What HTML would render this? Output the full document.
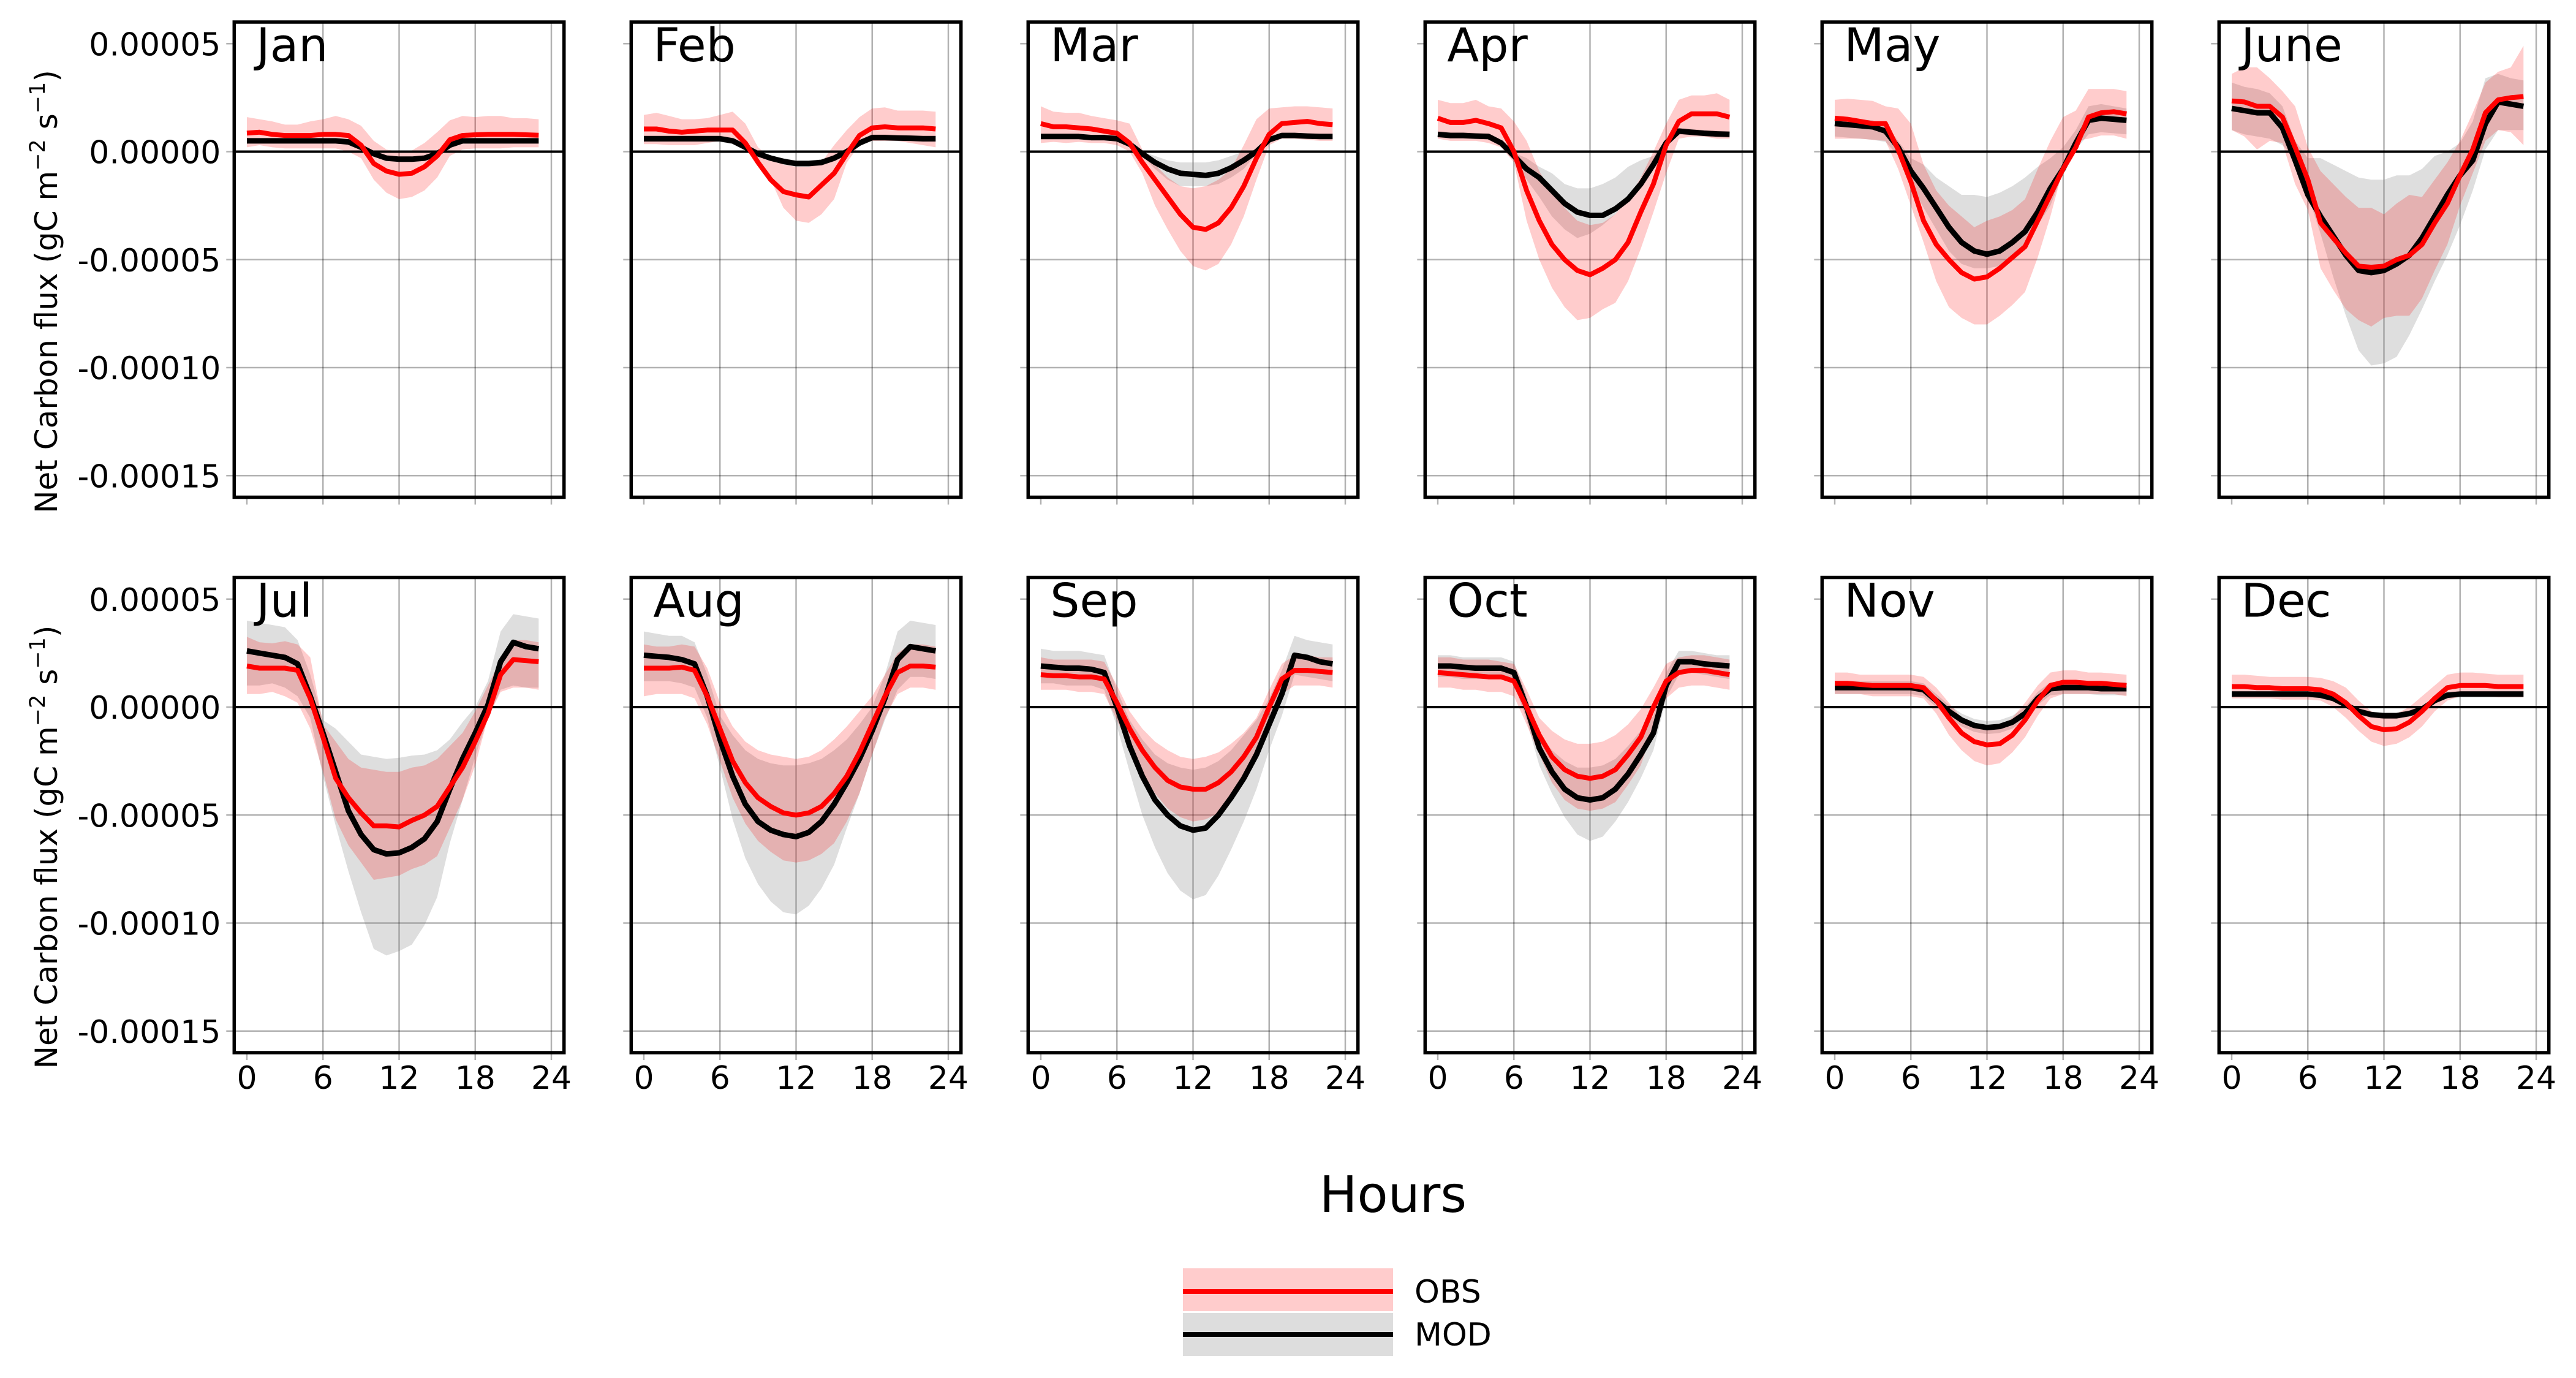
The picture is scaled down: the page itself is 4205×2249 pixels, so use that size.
<!DOCTYPE html>
<html><head><meta charset="utf-8"><style>
html,body{margin:0;padding:0;background:#fff}
svg{display:block;font-family:"DejaVu Sans","Liberation Sans",sans-serif}
</style></head><body>
<svg id="chart" width="4205" height="2249" viewBox="0 0 4205 2249" xmlns="http://www.w3.org/2000/svg">
<g id="panels"></g>
<text x="2274" y="1978" font-size="82" text-anchor="middle">Hours</text>
<g>
  <rect x="1931" y="2070" width="343" height="70" fill="#ffcccc"/>
  <line x1="1931" x2="2274" y1="2108" y2="2108" stroke="#ff0000" stroke-width="8"/>
  <text x="2309" y="2126" font-size="52">OBS</text>
  <rect x="1931" y="2143" width="343" height="70" fill="#dddddd"/>
  <line x1="1931" x2="2274" y1="2178" y2="2178" stroke="#000" stroke-width="8"/>
  <text x="2309" y="2196" font-size="52">MOD</text>
</g>
</svg>
<script>
const months = ["Jan","Feb","Mar","Apr","May","June","Jul","Aug","Sep","Oct","Nov","Dec"];
const hours = [0,1,2,3,4,5,6,7,8,9,10,11,12,13,14,15,16,17,18,19,20,21,22,23];
const yTicks = [5,0,-5,-10,-15];
const yTickLabels = ["0.00005","0.00000","-0.00005","-0.00010","-0.00015"];
const xTicks = [0,6,12,18,24];
const xTickLabels = ["0","6","12","18","24"];
// values in units of 1e-5 gC m-2 s-1
const obsMean = [
[0.86,0.9,0.8,0.75,0.75,0.75,0.8,0.8,0.75,0.3,-0.55,-0.9,-1.05,-1.0,-0.7,-0.2,0.55,0.75,0.78,0.8,0.8,0.8,0.78,0.76],
[1.05,1.05,0.95,0.9,0.95,1.0,1.0,1.0,0.4,-0.5,-1.3,-1.85,-2.0,-2.1,-1.55,-1.0,-0.1,0.75,1.1,1.15,1.1,1.1,1.1,1.05],
[1.3,1.15,1.15,1.1,1.05,0.95,0.85,0.4,-0.5,-1.3,-2.1,-2.9,-3.5,-3.6,-3.3,-2.6,-1.6,-0.3,0.8,1.3,1.35,1.4,1.3,1.25],
[1.55,1.35,1.35,1.45,1.3,1.1,0.0,-1.8,-3.2,-4.3,-5.0,-5.5,-5.7,-5.4,-5.0,-4.2,-2.8,-1.5,0.3,1.4,1.75,1.75,1.75,1.6],
[1.55,1.5,1.4,1.3,1.3,0.1,-1.4,-3.2,-4.3,-5.0,-5.6,-5.9,-5.8,-5.4,-4.9,-4.4,-3.2,-2.0,-0.8,0.2,1.6,1.8,1.85,1.75],
[2.35,2.3,2.1,2.1,1.6,0.2,-1.3,-3.3,-4.0,-4.7,-5.3,-5.35,-5.3,-5.0,-4.8,-4.3,-3.3,-2.4,-1.1,0.1,1.8,2.4,2.5,2.55],
[1.9,1.8,1.8,1.8,1.7,0.4,-1.4,-3.3,-4.2,-4.9,-5.5,-5.5,-5.55,-5.25,-5.0,-4.6,-3.7,-2.8,-1.6,-0.3,1.5,2.2,2.15,2.1],
[1.8,1.8,1.8,1.85,1.7,0.5,-1.0,-2.5,-3.5,-4.2,-4.6,-4.9,-5.0,-4.9,-4.6,-4.0,-3.2,-2.1,-0.8,0.5,1.6,1.9,1.9,1.85],
[1.5,1.45,1.45,1.4,1.4,1.3,0.2,-1.0,-2.0,-2.8,-3.4,-3.7,-3.8,-3.8,-3.5,-3.0,-2.3,-1.4,0.0,1.3,1.7,1.7,1.65,1.6],
[1.6,1.55,1.5,1.45,1.4,1.4,1.2,0.0,-1.3,-2.3,-2.9,-3.2,-3.3,-3.2,-2.9,-2.2,-1.4,0.0,1.2,1.6,1.7,1.7,1.6,1.5],
[1.1,1.1,1.05,1.0,1.0,1.0,1.0,0.9,0.3,-0.5,-1.2,-1.6,-1.75,-1.7,-1.3,-0.6,0.3,1.0,1.15,1.15,1.1,1.1,1.05,1.0],
[0.95,0.95,0.9,0.9,0.85,0.85,0.85,0.8,0.6,0.2,-0.4,-0.9,-1.05,-1.0,-0.7,-0.2,0.4,0.9,1.0,1.0,1.0,0.95,0.95,0.95]];
const obsUpper = [
[1.6,1.5,1.4,1.25,1.25,1.4,1.5,1.65,1.5,1.2,0.5,0.1,0.0,0.05,0.4,0.9,1.45,1.65,1.6,1.65,1.65,1.55,1.55,1.5],
[1.7,1.8,1.65,1.5,1.5,1.55,1.7,1.85,1.3,0.2,-0.3,-0.6,-0.7,-0.7,-0.5,0.3,1.0,1.6,2.0,2.05,1.9,1.9,1.9,1.85],
[2.1,1.85,1.8,1.8,1.65,1.55,1.45,1.3,0.1,-0.6,-1.2,-1.6,-1.7,-1.6,-1.3,-0.8,0.3,1.5,2.0,2.05,2.1,2.1,2.05,2.0],
[2.4,2.25,2.25,2.4,2.1,2.0,1.4,0.5,-0.9,-1.9,-2.6,-3.2,-3.4,-3.3,-2.9,-2.2,-1.2,0.0,1.3,2.4,2.6,2.6,2.7,2.4],
[2.4,2.45,2.4,2.35,2.1,2.0,1.3,-0.6,-1.8,-2.5,-3.0,-3.5,-3.2,-3.0,-2.7,-2.2,-0.8,0.5,1.6,1.9,2.9,2.9,2.9,2.8],
[3.6,3.9,3.9,3.4,2.8,2.1,0.2,-0.9,-1.5,-2.1,-2.6,-2.6,-2.9,-2.4,-2.0,-2.1,-1.3,-0.5,0.5,1.8,3.2,3.7,3.9,4.9],
[3.25,3.0,2.95,3.05,2.9,2.3,-0.8,-1.6,-2.4,-2.8,-2.9,-3.0,-3.0,-2.8,-2.7,-2.4,-1.8,-1.2,-0.2,1.0,2.2,3.1,3.1,3.0],
[2.9,2.8,2.8,2.9,2.8,1.8,0.2,-0.9,-1.6,-2.0,-2.2,-2.3,-2.4,-2.3,-2.0,-1.5,-0.9,-0.2,0.5,1.5,2.5,2.9,2.9,2.8],
[2.3,2.2,2.2,2.2,2.2,2.1,1.0,-0.2,-1.0,-1.6,-2.0,-2.3,-2.4,-2.3,-2.1,-1.7,-1.2,-0.5,0.8,2.0,2.4,2.4,2.3,2.3],
[2.3,2.3,2.2,2.2,2.2,2.1,2.0,0.8,-0.5,-1.1,-1.5,-1.7,-1.7,-1.6,-1.3,-0.8,-0.1,0.9,2.0,2.3,2.4,2.4,2.3,2.2],
[1.6,1.6,1.5,1.5,1.5,1.5,1.5,1.4,0.9,0.2,-0.5,-0.9,-1.0,-0.9,-0.5,0.2,1.0,1.6,1.7,1.7,1.6,1.6,1.55,1.5],
[1.5,1.5,1.45,1.4,1.4,1.4,1.4,1.35,1.2,0.9,0.3,-0.2,-0.4,-0.3,0.0,0.5,1.0,1.5,1.6,1.6,1.55,1.5,1.5,1.5]];
const obsLower = [
[0.2,0.3,0.2,0.15,0.15,0.15,0.15,0.15,0.0,-0.3,-1.3,-1.9,-2.2,-2.1,-1.8,-1.2,-0.2,0.1,0.15,0.15,0.15,0.2,0.2,0.2],
[0.35,0.35,0.3,0.3,0.3,0.4,0.5,0.5,0.1,-0.6,-1.3,-2.6,-3.2,-3.3,-2.9,-2.2,-0.5,0.3,0.5,0.5,0.5,0.4,0.3,0.2],
[0.4,0.45,0.4,0.45,0.4,0.4,0.3,0.0,-1.0,-2.5,-3.6,-4.6,-5.3,-5.5,-5.2,-4.3,-3.0,-1.3,0.3,0.6,0.6,0.55,0.5,0.5],
[0.6,0.5,0.5,0.5,0.4,0.2,-0.5,-3.2,-5.0,-6.3,-7.2,-7.8,-7.7,-7.3,-7.0,-6.0,-4.5,-2.8,-1.0,0.6,0.7,0.7,0.6,0.6],
[0.6,0.6,0.6,0.55,0.5,-0.8,-2.5,-4.2,-6.0,-7.2,-7.7,-8.0,-8.0,-7.6,-7.1,-6.5,-4.9,-3.0,-0.8,0.5,0.6,0.75,0.75,0.6],
[1.0,0.7,0.1,0.5,0.4,-1.5,-2.7,-5.4,-6.4,-7.3,-7.8,-8.1,-7.7,-7.6,-7.6,-6.8,-5.5,-4.3,-2.5,-1.0,0.5,1.0,0.9,0.3],
[0.6,0.6,0.7,0.5,0.2,-1.0,-3.0,-5.2,-6.4,-7.2,-8.0,-7.9,-7.8,-7.5,-7.3,-6.9,-5.6,-4.3,-2.7,-0.5,0.7,0.9,0.9,0.8],
[0.5,0.6,0.6,0.6,0.4,-0.8,-2.5,-4.2,-5.4,-6.2,-6.7,-7.1,-7.2,-7.1,-6.8,-6.3,-5.3,-4.0,-2.2,-0.5,0.6,0.9,0.9,0.8],
[0.8,0.8,0.8,0.7,0.7,0.6,-0.6,-1.9,-3.0,-4.0,-4.7,-5.1,-5.3,-5.2,-4.9,-4.3,-3.4,-2.3,-0.8,0.6,1.0,1.0,1.0,0.9],
[0.9,0.9,0.8,0.8,0.7,0.7,0.5,-0.8,-2.2,-3.5,-4.3,-4.7,-4.8,-4.7,-4.4,-3.6,-2.7,-1.0,0.4,0.9,1.0,1.0,0.9,0.8],
[0.6,0.6,0.6,0.5,0.5,0.5,0.5,0.4,-0.3,-1.3,-2.0,-2.5,-2.7,-2.6,-2.1,-1.4,-0.4,0.4,0.6,0.6,0.6,0.6,0.6,0.5],
[0.4,0.4,0.4,0.4,0.35,0.35,0.35,0.3,0.0,-0.5,-1.1,-1.6,-1.8,-1.7,-1.4,-0.9,-0.2,0.3,0.5,0.5,0.5,0.45,0.45,0.45]];
const modMean = [
[0.5,0.5,0.5,0.5,0.5,0.5,0.5,0.5,0.45,0.2,-0.1,-0.3,-0.35,-0.35,-0.3,-0.1,0.3,0.5,0.5,0.5,0.5,0.5,0.5,0.5],
[0.6,0.6,0.6,0.6,0.6,0.6,0.6,0.5,0.2,-0.1,-0.3,-0.45,-0.55,-0.55,-0.5,-0.3,0.0,0.4,0.65,0.65,0.63,0.62,0.6,0.6],
[0.7,0.7,0.7,0.7,0.65,0.65,0.6,0.35,-0.1,-0.5,-0.8,-1.0,-1.05,-1.1,-1.0,-0.75,-0.4,0.0,0.55,0.75,0.75,0.72,0.7,0.7],
[0.8,0.75,0.75,0.72,0.7,0.4,-0.2,-0.8,-1.2,-1.8,-2.4,-2.8,-2.95,-2.95,-2.65,-2.2,-1.5,-0.6,0.4,0.95,0.9,0.85,0.82,0.8],
[1.3,1.25,1.2,1.15,0.95,0.2,-0.9,-1.7,-2.6,-3.5,-4.2,-4.6,-4.75,-4.6,-4.2,-3.7,-2.8,-1.7,-0.8,0.4,1.45,1.55,1.5,1.45],
[2.0,1.9,1.8,1.8,1.1,-0.4,-2.0,-3.0,-3.9,-4.8,-5.5,-5.6,-5.5,-5.2,-4.8,-4.0,-3.0,-2.0,-1.1,-0.4,1.3,2.3,2.2,2.1],
[2.6,2.5,2.4,2.3,2.0,0.5,-1.2,-3.0,-4.8,-5.9,-6.6,-6.8,-6.75,-6.5,-6.1,-5.3,-3.8,-2.4,-1.2,0.1,2.1,3.0,2.8,2.7],
[2.4,2.35,2.3,2.2,2.0,0.5,-1.5,-3.2,-4.5,-5.3,-5.7,-5.9,-6.0,-5.8,-5.3,-4.5,-3.5,-2.4,-1.1,0.4,2.2,2.8,2.7,2.6],
[1.9,1.85,1.8,1.8,1.75,1.6,0.0,-1.8,-3.2,-4.3,-5.0,-5.5,-5.7,-5.6,-5.0,-4.2,-3.3,-2.2,-0.8,0.6,2.4,2.3,2.1,2.0],
[1.9,1.9,1.85,1.8,1.8,1.8,1.6,0.0,-1.9,-3.0,-3.8,-4.2,-4.3,-4.2,-3.8,-3.1,-2.2,-1.2,1.0,2.1,2.1,2.0,1.95,1.9],
[0.9,0.9,0.9,0.9,0.9,0.9,0.9,0.8,0.3,-0.2,-0.6,-0.85,-0.95,-0.9,-0.7,-0.3,0.4,0.85,0.9,0.9,0.9,0.85,0.85,0.85],
[0.6,0.6,0.6,0.6,0.6,0.6,0.6,0.55,0.4,0.1,-0.2,-0.35,-0.4,-0.4,-0.3,-0.1,0.3,0.55,0.6,0.6,0.6,0.6,0.6,0.6]];
const modUpper = [
[0.6,0.6,0.6,0.6,0.6,0.6,0.6,0.6,0.55,0.3,0.0,-0.2,-0.25,-0.25,-0.2,0.0,0.4,0.6,0.6,0.6,0.6,0.6,0.6,0.6],
[0.75,0.75,0.75,0.75,0.75,0.75,0.75,0.65,0.35,0.0,-0.2,-0.3,-0.4,-0.4,-0.35,-0.15,0.15,0.55,0.8,0.8,0.78,0.77,0.75,0.75],
[0.8,0.8,0.8,0.8,0.75,0.75,0.7,0.45,0.0,-0.2,-0.4,-0.5,-0.5,-0.5,-0.4,-0.2,0.0,0.1,0.65,0.85,0.85,0.82,0.8,0.8],
[0.95,0.9,0.9,0.87,0.85,0.55,-0.05,-0.3,-0.7,-1.0,-1.5,-1.7,-1.7,-1.5,-1.2,-0.7,-0.4,-0.2,0.55,1.1,1.05,1.0,0.97,0.95],
[1.6,1.55,1.5,1.45,1.25,0.5,-0.3,-0.6,-1.2,-1.6,-2.0,-2.0,-2.1,-1.9,-1.6,-1.2,-0.7,-0.3,0.2,1.0,2.1,2.2,2.1,2.0],
[3.2,3.0,2.9,2.7,2.1,0.5,-0.3,-0.3,-0.6,-0.9,-1.2,-1.3,-1.3,-1.1,-1.1,-0.8,-0.2,0.0,0.4,1.4,3.4,3.6,3.4,3.3],
[4.0,3.9,3.8,3.7,3.1,1.5,-0.6,-1.0,-1.6,-2.2,-2.3,-2.4,-2.35,-2.25,-2.2,-2.0,-1.5,-0.7,0.0,1.2,3.5,4.3,4.2,4.1],
[3.5,3.4,3.3,3.3,3.0,1.5,-0.4,-1.3,-2.0,-2.4,-2.6,-2.7,-2.7,-2.6,-2.4,-2.0,-1.5,-0.8,0.0,1.5,3.5,4.0,3.9,3.8],
[2.7,2.6,2.6,2.6,2.5,2.4,0.8,-0.6,-1.5,-2.2,-2.6,-2.8,-2.9,-2.8,-2.5,-2.0,-1.3,-0.6,0.4,1.7,3.3,3.1,3.0,2.9],
[2.4,2.4,2.3,2.3,2.3,2.3,2.1,0.5,-1.2,-2.0,-2.5,-2.8,-2.8,-2.7,-2.4,-1.8,-1.1,-0.4,1.6,2.6,2.6,2.5,2.4,2.4],
[1.2,1.2,1.2,1.2,1.2,1.2,1.2,1.1,0.6,0.1,-0.3,-0.55,-0.65,-0.6,-0.4,0.0,0.7,1.15,1.2,1.2,1.2,1.15,1.15,1.15],
[0.75,0.75,0.75,0.75,0.75,0.75,0.75,0.7,0.55,0.25,-0.05,-0.2,-0.25,-0.25,-0.15,0.05,0.45,0.7,0.75,0.75,0.75,0.75,0.75,0.75]];
const modLower = [
[0.4,0.4,0.4,0.4,0.4,0.4,0.4,0.4,0.35,0.1,-0.2,-0.4,-0.45,-0.45,-0.4,-0.2,0.2,0.4,0.4,0.4,0.4,0.4,0.4,0.4],
[0.45,0.45,0.45,0.45,0.45,0.45,0.45,0.35,0.05,-0.2,-0.4,-0.6,-0.7,-0.7,-0.65,-0.45,-0.15,0.25,0.5,0.5,0.48,0.47,0.45,0.45],
[0.6,0.6,0.6,0.6,0.55,0.55,0.5,0.25,-0.2,-0.8,-1.3,-1.6,-1.6,-1.6,-1.5,-1.2,-0.8,-0.1,0.45,0.65,0.65,0.62,0.6,0.6],
[0.65,0.6,0.6,0.57,0.55,0.25,-0.35,-1.3,-2.1,-3.0,-3.6,-4.0,-3.8,-3.4,-2.9,-2.2,-1.2,-0.8,0.25,0.8,0.75,0.7,0.67,0.65],
[0.7,0.65,0.6,0.55,0.45,-0.2,-1.5,-2.6,-3.6,-4.6,-5.2,-5.4,-5.4,-5.3,-4.9,-4.5,-3.4,-2.5,-1.0,0.1,0.8,0.9,0.85,0.8],
[1.0,0.8,0.7,0.6,0.3,-0.3,-2.0,-3.8,-5.8,-7.6,-9.2,-9.9,-9.8,-9.5,-8.5,-7.3,-6.0,-4.8,-3.4,-1.8,0.1,1.0,1.0,1.0],
[1.0,1.0,1.1,0.9,0.5,-0.5,-3.2,-5.5,-7.6,-9.5,-11.2,-11.5,-11.3,-11.0,-10.1,-8.8,-6.3,-4.3,-2.3,-0.5,0.8,1.0,0.9,0.9],
[1.2,1.2,1.2,1.1,0.9,-0.5,-2.8,-5.2,-7.0,-8.2,-9.0,-9.5,-9.6,-9.2,-8.4,-7.3,-5.6,-4.0,-2.2,-0.6,0.8,1.4,1.4,1.3],
[1.1,1.1,1.0,1.0,1.0,0.8,-0.9,-3.0,-5.0,-6.5,-7.7,-8.5,-8.9,-8.7,-7.8,-6.6,-5.3,-3.8,-2.0,-0.4,1.5,1.4,1.3,1.2],
[1.4,1.4,1.3,1.3,1.3,1.3,1.1,-0.6,-2.7,-4.0,-5.1,-5.9,-6.2,-6.0,-5.3,-4.4,-3.3,-2.0,0.4,1.5,1.6,1.5,1.4,1.3],
[0.6,0.6,0.6,0.6,0.6,0.6,0.6,0.5,0.0,-0.5,-0.9,-1.15,-1.25,-1.2,-1.0,-0.6,0.1,0.55,0.6,0.6,0.6,0.55,0.55,0.55],
[0.45,0.45,0.45,0.45,0.45,0.45,0.45,0.4,0.25,-0.05,-0.35,-0.5,-0.55,-0.55,-0.45,-0.25,0.15,0.4,0.45,0.45,0.45,0.45,0.45,0.45]];

const NS = "http://www.w3.org/2000/svg";
const root = document.getElementById("panels");
const X0 = 382.3, PITCH = 648, W = 538.4, Y0 = 36, H = 775.5, ROWP = 906.5;
const XMIN = -1, XMAX = 25, YMAX = 6, YMIN = -16;
function mk(tag, attrs, parent){const e=document.createElementNS(NS,tag);for(const k in attrs)e.setAttribute(k,attrs[k]);parent.appendChild(e);return e;}

months.forEach((m, i) => {
  const row = Math.floor(i/6), col = i%6;
  const left = X0 + col*PITCH, top = Y0 + row*ROWP;
  const sx = h => left + (h - XMIN)/(XMAX - XMIN)*W;
  const sy = v => top + (YMAX - v)/(YMAX - YMIN)*H;
  const g = mk("g", {}, root);
  
  
  xTicks.forEach(t => {
    if (t > 0) {
      const l = mk("line", {x1:sx(t),x2:sx(t),y1:top,y2:top+H,stroke:"#000","stroke-opacity":0.3,"stroke-width":2.5}, g);
      
      
    }
    const tk = mk("line", {x1:sx(t),x2:sx(t),y1:top+H,y2:top+H+12,stroke:"#000","stroke-opacity":0.3,"stroke-width":2.5}, g);
    
    
  });
  yTicks.forEach((t, k) => {
    if (t < 0) {
      const l = mk("line", {x1:left,x2:left+W,y1:sy(t),y2:sy(t),stroke:"#000","stroke-opacity":0.3,"stroke-width":2.5}, g);
      
      
    }
    const tk = mk("line", {x1:left-13,x2:left,y1:sy(t),y2:sy(t),stroke:"#000","stroke-opacity":0.3,"stroke-width":2.5}, g);
    
    
    if (col === 0) {
      const tl = mk("text", {x:left-22,y:sy(t)+19,"font-size":52,"text-anchor":"end"}, g);
      tl.textContent = yTickLabels[k];
      
      
    }
  });
  if (row === 1) {
    xTicks.forEach((t, k) => {
      const tl = mk("text", {x:sx(t),y:1777,"font-size":52,"text-anchor":"middle"}, g);
      tl.textContent = xTickLabels[k];
      
      
    });
  }
  const band = (up, lo) => {
    let d = "M" + hours.map((h,j) => sx(h).toFixed(1)+","+sy(up[j]).toFixed(1)).join("L");
    d += "L" + hours.slice().reverse().map(h => sx(h).toFixed(1)+","+sy(lo[h]).toFixed(1)).join("L") + "Z";
    return d;
  };
  const line = arr => "M" + hours.map((h,j) => sx(h).toFixed(1)+","+sy(arr[j]).toFixed(1)).join("L");
  const mb = mk("path", {d:band(modUpper[i], modLower[i]), fill:"#808080","fill-opacity":0.26}, g);
  
  
  const ob = mk("path", {d:band(obsUpper[i], obsLower[i]), fill:"#ff0000","fill-opacity":0.2}, g);
  
  
  const zl = mk("line", {x1:left,x2:left+W,y1:sy(0),y2:sy(0),stroke:"#000","stroke-width":4}, g);
  
  
  const ml = mk("path", {d:line(modMean[i]), fill:"none", stroke:"#000","stroke-width":9,"stroke-linejoin":"round"}, g);
  
  
  const ol = mk("path", {d:line(obsMean[i]), fill:"none", stroke:"#ff0000","stroke-width":8,"stroke-linejoin":"round"}, g);
  
  
  const fr = mk("rect", {x:left,y:top,width:W,height:H,fill:"none",stroke:"#000","stroke-width":5.5}, g);
  
  
  const tt = mk("text", {x:left+36,y:top+64,"font-size":76}, g);
  tt.textContent = m;
  
  
  if (col === 0) {
    const cy = top + 440;
    const yl = mk("text", {transform:"translate(93,"+cy+") rotate(-90)","font-size":50,"text-anchor":"middle"}, g);
    yl.innerHTML = 'Net Carbon flux (gC m<tspan dy="-20" font-size="35">−2</tspan><tspan dy="20"> s</tspan><tspan dy="-20" font-size="35">−1</tspan><tspan dy="20">)</tspan>';
    
    
  }
});
</script>
</body></html>
